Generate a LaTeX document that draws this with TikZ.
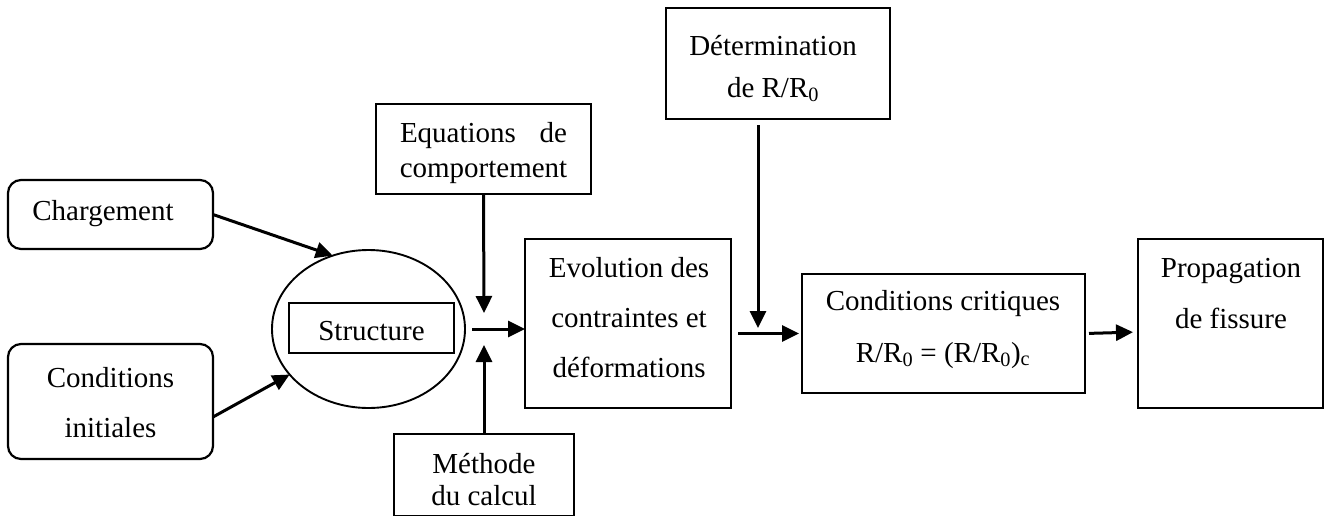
\documentclass[tikz,border=0pt]{standalone}
\usepackage{fontspec}
\setmainfont{Liberation Serif}
\usetikzlibrary{arrows.meta,shapes.geometric}
\begin{document}
\begin{tikzpicture}[x=1pt,y=-1pt,
  box/.style={draw,line width=2.2pt,inner sep=0pt,outer sep=0pt},
  rbox/.style={box,rounded corners=13pt},
  ell/.style={draw,ellipse,line width=1.9pt,inner sep=0pt,outer sep=0pt},
  arr/.style={line width=3pt,-{Triangle[length=17pt,width=16pt]}},
  txt/.style={align=center,anchor=base,inner sep=0pt},
  fs/.style={font=\fontsize{29}{#1}\selectfont}]
\useasboundingbox (0,0) rectangle (1329,515);
% boxes
\node[rbox,minimum width=205,minimum height=69] (charg) at (110.5,214.5) {};
\node[rbox,minimum width=205,minimum height=115] (cond) at (110.5,401.5) {};
\node[ell,minimum width=193,minimum height=158] (ellp) at (368.5,329) {};
\node[box,minimum width=165,minimum height=50] (struct) at (371.5,328) {};
\node[box,minimum width=215,minimum height=90] (eq) at (483.5,149) {};
\node[box,minimum width=180,minimum height=82.5] (meth) at (484,475.25) {};
\node[box,minimum width=206,minimum height=169] (evo) at (628,323.5) {};
\node[box,minimum width=224,minimum height=111] (det) at (778,63.5) {};
\node[box,minimum width=283,minimum height=119] (cc) at (943.5,333.5) {};
\node[box,minimum width=185,minimum height=169] (prop) at (1230.5,323.5) {};
% texts (anchor base = baseline of last line)
\node[txt,fs=35] (tcharg) at (103,220) {Chargement};
\node[txt,fs=50] (tcond) at (110.5,437) {Conditions\\initiales};
\node[txt,fs=35] (tstruct) at (371.5,340) {Structure};
\node[txt,fs=35] (teq) at (483.5,177) {\hbox to 167pt{Equations\hfill de}\\comportement};
\node[txt,fs=32] (tmeth) at (484,505) {Méthode\\du calcul};
\node[txt,fs=50] (tevo) at (629,377) {Evolution des\\contraintes et\\déformations};
\node[txt,fs=42] (tdet) at (773,97) {Détermination\\de R/R\textsubscript{0}};
\node[txt,fs=52] (tcc) at (943,362) {Conditions critiques\\R/R\textsubscript{0} = (R/R\textsubscript{0})\textsubscript{c}};
\node[txt,fs=51] (tprop) at (1231,328) {Propagation\\de fissure};
% junction points
\coordinate (j1) at (484,313);
\coordinate (j2) at (484,345);
\coordinate (j3) at (758,328);
% connectors
\draw[arr] (charg.east) -- (ellp.116);
\draw[arr] ([yshift=-15.5pt]cond.east) -- (ellp.210);
\draw[arr] (eq.south) -- (j1);
\draw[arr] (meth.north) -- (j2);
\draw[arr,shorten <=7pt] (ellp.east) -- (ellp.east -| evo.west);
\draw[arr,shorten <=6pt] ([xshift=-20pt]det.south) -- (j3);
\draw[arr,shorten <=7pt,shorten >=3pt] (evo.east |- cc.west) -- (cc.west);
\draw[arr,shorten <=4pt,shorten >=5pt] (cc.east) -- ([yshift=-8.5pt]prop.west);
\end{tikzpicture}
\end{document}
